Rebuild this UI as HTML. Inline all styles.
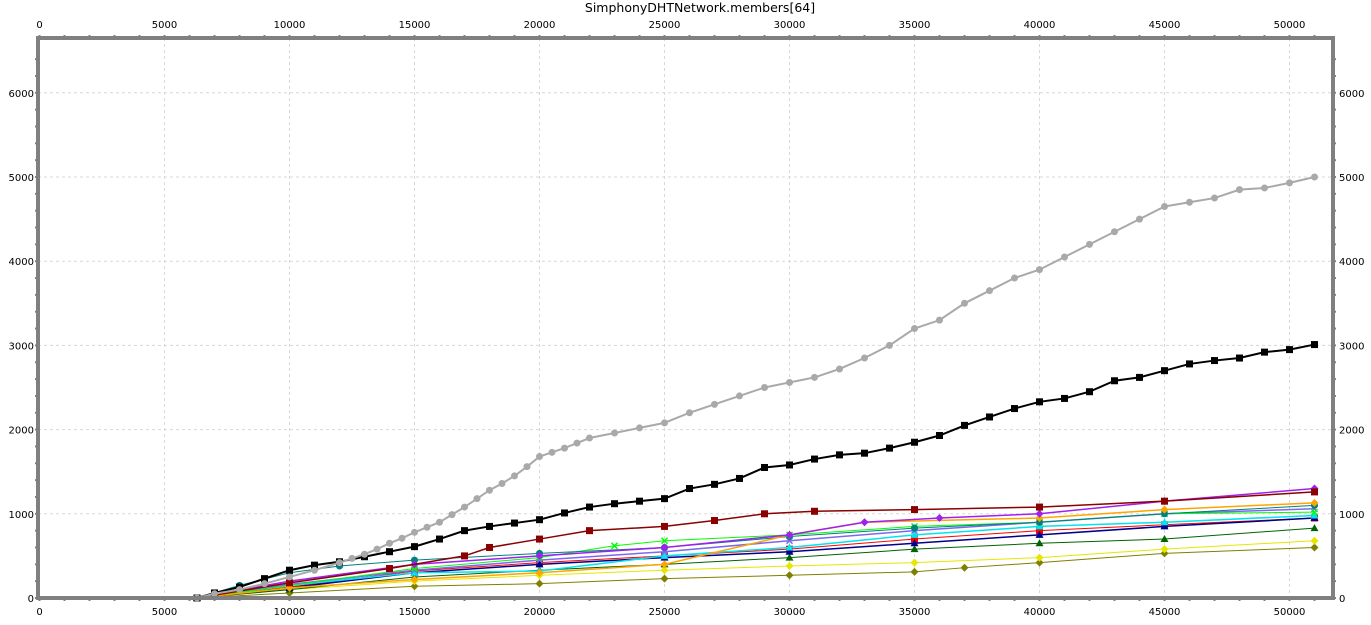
<!DOCTYPE html>
<html><head><meta charset="utf-8"><style>
body{margin:0;background:#fff;font-family:"DejaVu Sans","Liberation Sans",sans-serif}
svg text{font-family:"DejaVu Sans","Liberation Sans",sans-serif;font-size:10px;fill:#000}
svg text.title{font-size:12.5px}
</style></head><body>
<svg id="c" width="1371" height="621"></svg>
<script>
const xTicks=[0,5000,10000,15000,20000,25000,30000,35000,40000,45000,50000];
const yTicks=[0,1000,2000,3000,4000,5000,6000];
const grayX=[6.3,7,8,9,10,11,12,12.5,13,13.5,14,14.5,15,15.5,16,16.5,17,17.5,18,18.5,19,19.5,20,20.5,21,21.5,22,23,24,25,26,27,28,29,30,31,32,33,34,35,36,37,38,39,40,41,42,43,44,45,46,47,48,49,50,51];
const grayY=[0,50,100,170,250,330,420,470,520,580,650,710,780,840,900,990,1080,1180,1280,1360,1450,1560,1680,1730,1780,1840,1900,1960,2020,2080,2200,2300,2400,2500,2560,2620,2720,2850,3000,3200,3300,3500,3650,3800,3900,4050,4200,4350,4500,4650,4700,4750,4850,4870,4930,5000];
const blackX=[6.3,7,8,9,10,11,12,13,14,15,16,17,18,19,20,21,22,23,24,25,26,27,28,29,30,31,32,33,34,35,36,37,38,39,40,41,42,43,44,45,46,47,48,49,50,51];
const blackY=[0,60,130,230,330,390,430,490,550,610,700,800,850,890,930,1010,1080,1120,1150,1180,1300,1350,1420,1550,1580,1650,1700,1720,1780,1850,1930,2050,2150,2250,2330,2370,2450,2580,2620,2700,2780,2820,2850,2920,2950,3010];
const redX=[6.3,10,14,17,18,20,22,25,27,29,31,35,40,45,51];
const redY=[0,180,350,500,600,700,800,850,920,1000,1030,1050,1080,1150,1260];
const purpleX=[6.3,10,15,20,25,30,33,36,40,45,51];
const purpleY=[0,200,400,500,600,750,900,950,1000,1150,1300];
const orangeX=[6.3,10,15,20,25,30,33,40,45,51];
const orangeY=[0,120,220,300,400,750,900,950,1050,1130];
const tealX=[6.3,8,10,12,15,20,25,30,35,40,45,51];
const tealY=[0,150,300,380,450,530,600,730,830,900,1000,1100];
const limeX=[6.3,10,15,20,23,25,30,35,40,45,51];
const limeY=[0,150,350,480,620,680,750,850,900,1000,1020];
const navyX=[6.3,10,15,20,25,30,35,40,45,51];
const navyY=[0,120,300,400,480,550,650,750,850,950];
const dgreenX=[6.3,10,15,20,25,30,35,40,45,51];
const dgreenY=[0,100,250,330,400,480,580,650,700,830];
const yellowX=[6.3,10,15,20,25,30,35,40,45,51];
const yellowY=[0,100,200,270,330,380,420,480,580,680];
const oliveX=[6.3,10,15,20,25,30,35,37,40,45,51];
const oliveY=[0,60,140,170,230,270,310,360,420,530,600];
const cyanX=[6.3,10,15,20,25,30,35,40,45,51];
const cyanY=[0,150,300,320,500,600,750,850,900,980];
const slateX=[6.3,10,15,20,25,30,35,40,45,51];
const slateY=[0,160,330,450,550,680,800,900,1000,1060];
const red2X=[6.3,10,15,20,25,30,35,40,45,51];
const red2Y=[0,130,320,420,500,580,700,800,870,950];

const L=38,R=1333,T=38,B=598;
const sx=v=>39.5+v*0.025;
const sy=v=>598-v*84.2/1000;
const svg=document.getElementById('c');const NS='http://www.w3.org/2000/svg';
function mk(t,a,p){const e=document.createElementNS(NS,t);for(const k in a)e.setAttribute(k,a[k]);(p||svg).appendChild(e);return e;}
const bg=mk('rect',{x:L,y:T,width:R-L,height:B-T,fill:'#fff'});


const title=mk('text',{x:700,y:12,'text-anchor':'middle',class:'title'});
title.textContent='SimphonyDHTNetwork.members[64]';


xTicks.forEach(v=>{const x=sx(v);
 if(v>0){const g=mk('line',{x1:x,x2:x,y1:T,y2:B,stroke:'#d8d8d8','stroke-dasharray':'3,3'});
 
 }
 [[28,'x-top-tick-label'],[615,'x-tick-label']].forEach(([y,n])=>{const t=mk('text',{x:x,y:y,'text-anchor':'middle'});t.textContent=v;
 
 });
});
for(let v=0;v<=51000;v+=1000){const x=sx(v);mk('line',{x1:x,x2:x,y1:T-3,y2:T,stroke:'#808080','stroke-width':2});mk('line',{x1:x,x2:x,y1:B,y2:B+3,stroke:'#808080','stroke-width':2});}
for(let v=0;v<=6500;v+=200){const y=sy(v);mk('line',{x1:L-3,x2:L,y1:y,y2:y,stroke:'#808080','stroke-width':2});mk('line',{x1:R,x2:R+3,y1:y,y2:y,stroke:'#808080','stroke-width':2});}
yTicks.forEach(v=>{const y=sy(v);
 if(v>0){const g=mk('line',{x1:L,x2:R,y1:y,y2:y,stroke:'#d8d8d8','stroke-dasharray':'3,3'});
 
 }
 const t=mk('text',{x:L-4,y:y+4,'text-anchor':'end'});t.textContent=v;
 
 
 const t2=mk('text',{x:R+6,y:y+4,'text-anchor':'start'});t2.textContent=v;
 
 
});
const series=[
 ['olive',oliveX,oliveY,'#808000','d',1],
 ['yellow',yellowX,yellowY,'#e6e600','d',1],
 ['dark-green',dgreenX,dgreenY,'#006400','t',1],
 ['red',red2X,red2Y,'#ff0000','s',1],
 ['navy',navyX,navyY,'#00008b','t',1.5],
 ['cyan',cyanX,cyanY,'#00e5ee','t',1.5],
 ['slate',slateX,slateY,'#7b68ee','x',1.5],
 ['lime',limeX,limeY,'#00ff00','x',1],
 ['teal',tealX,tealY,'#008080','c',1],
 ['orange',orangeX,orangeY,'#ffa500','d',1.5],
 ['purple',purpleX,purpleY,'#a020f0','d',1.5],
 ['dark-red',redX,redY,'#8b0000','s',1.5],
 ['black',blackX,blackY,'#000000','s',2],
 ['gray',grayX,grayY,'#a9a9a9','c',2]];
series.forEach(([n,xs,ys,c,m,w])=>{
 const g=mk('g',{});
 
 
 const pts=xs.map((x,i)=>sx(x*1000)+','+sy(ys[i])).join(' ');
 mk('polyline',{points:pts,fill:'none',stroke:c,'stroke-width':w},g);
 xs.forEach((x,i)=>{const px=sx(x*1000),py=sy(ys[i]);let e;
  if(m=='s')e=mk('rect',{x:px-3.5,y:py-3.5,width:7,height:7,fill:c},g);
  else if(m=='c')e=mk('circle',{cx:px,cy:py,r:3.5,fill:c},g);
  else if(m=='d')e=mk('polygon',{points:`${px},${py-4} ${px+4},${py} ${px},${py+4} ${px-4},${py}`,fill:c},g);
  else if(m=='t')e=mk('polygon',{points:`${px},${py-4} ${px+4},${py+3} ${px-4},${py+3}`,fill:c},g);
  else e=mk('path',{d:`M${px-3},${py-3}L${px+3},${py+3}M${px+3},${py-3}L${px-3},${py+3}`,stroke:c,'stroke-width':1.5},g);
  
  
 });
});
const fr=mk('rect',{x:L,y:T,width:R-L,height:B-T,fill:'none',stroke:'#808080','stroke-width':4});


</script>
</body></html>
